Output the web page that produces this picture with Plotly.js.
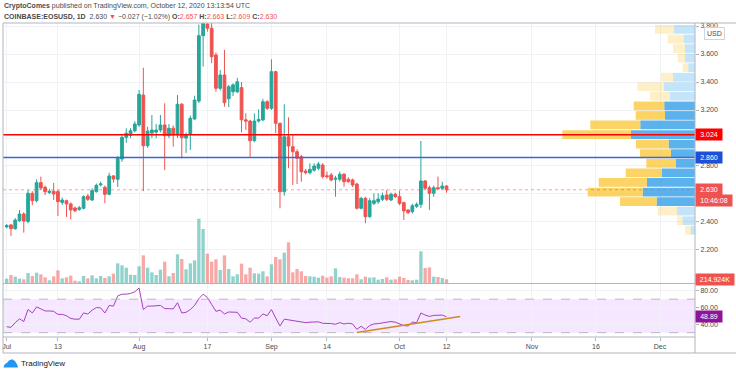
<!DOCTYPE html>
<html><head><meta charset="utf-8">
<script src="https://cdn.plot.ly/plotly-3.0.1.min.js"></script>
<style>html,body{margin:0;padding:0;background:#fff;}#chart{width:736px;height:374px;}</style>
</head><body><div id="chart"></div>
<script>
// ---------- data ----------
const firstDay = [2020, 6, 1]; // 1 Jul 2020, one candle per day
const openP = [2.365,2.379,2.352,2.409,2.457,2.404,2.605,2.552,2.681,2.648,
2.610,2.620,2.617,2.540,2.552,2.529,2.500,2.490,2.498,2.585,
2.557,2.617,2.665,2.648,2.598,2.729,2.705,2.850,3.005,3.020,
3.052,3.093,3.307,2.945,3.035,3.042,3.057,3.093,3.016,3.070,
3.022,3.241,3.000,3.026,3.136,3.264,3.731,3.814,3.784,3.593,
3.355,3.450,3.280,3.330,3.330,3.360,3.130,3.121,2.981,3.121,
3.129,3.259,3.212,3.474,3.105,2.616,3.009,2.938,2.902,2.866,
2.764,2.752,2.770,2.784,2.807,2.730,2.736,2.705,2.705,2.741,
2.705,2.700,2.671,2.498,2.569,2.438,2.533,2.545,2.562,2.593,
2.557,2.598,2.581,2.538,2.486,2.474,2.512,2.526,2.693,2.645,
2.605,2.645,2.641,2.657];
const highP = [2.385,2.385,2.428,2.486,2.470,2.629,2.620,2.705,2.724,2.660,
2.635,2.679,2.630,2.575,2.560,2.540,2.510,2.515,2.590,2.600,
2.640,2.675,2.688,2.660,2.752,2.735,2.870,3.020,3.069,3.070,
3.120,3.343,3.502,3.080,3.164,3.100,3.164,3.248,3.100,3.090,
3.307,3.250,3.040,3.160,3.302,3.810,3.940,3.900,3.830,3.610,
3.486,3.629,3.380,3.390,3.430,3.400,3.176,3.130,3.176,3.205,
3.280,3.270,3.562,3.480,3.110,3.241,3.148,3.021,2.920,2.880,
2.780,2.819,2.820,2.830,2.820,2.760,2.750,2.730,2.760,2.750,
2.720,2.710,2.680,2.580,2.580,2.570,2.605,2.605,2.610,2.629,
2.610,2.610,2.624,2.545,2.490,2.530,2.540,2.979,2.700,2.660,
2.660,2.724,2.688,2.663];
const lowP = [2.355,2.300,2.345,2.400,2.324,2.390,2.520,2.540,2.630,2.593,
2.600,2.557,2.443,2.520,2.436,2.419,2.470,2.480,2.490,2.550,
2.550,2.610,2.655,2.534,2.590,2.681,2.650,2.830,2.965,3.000,
3.040,3.080,2.621,2.930,3.000,2.998,3.040,2.771,3.000,2.938,
3.000,2.855,2.893,2.914,3.130,3.250,3.510,3.760,3.534,3.330,
3.340,3.224,3.220,3.300,3.320,3.040,3.057,2.866,2.970,3.110,
3.120,3.200,3.200,3.034,2.498,2.588,2.784,2.664,2.671,2.688,
2.740,2.740,2.760,2.770,2.710,2.710,2.690,2.581,2.690,2.652,
2.680,2.650,2.490,2.490,2.391,2.430,2.520,2.530,2.550,2.550,
2.550,2.570,2.520,2.414,2.455,2.460,2.500,2.500,2.630,2.486,
2.580,2.630,2.630,2.609];
const closeP = [2.375,2.352,2.414,2.457,2.407,2.605,2.552,2.681,2.643,2.616,
2.620,2.600,2.545,2.557,2.529,2.486,2.480,2.502,2.581,2.562,
2.624,2.662,2.672,2.598,2.729,2.707,2.855,3.005,3.034,3.052,
3.100,3.312,2.945,3.050,3.057,3.057,3.093,3.016,3.069,3.022,
3.241,3.002,3.020,3.141,3.271,3.731,3.819,3.784,3.581,3.355,
3.450,3.252,3.366,3.380,3.402,3.130,3.120,2.981,3.121,3.133,
3.259,3.212,3.474,3.105,2.616,3.009,2.943,2.902,2.855,2.759,
2.752,2.776,2.800,2.814,2.724,2.724,2.700,2.712,2.741,2.688,
2.688,2.664,2.498,2.569,2.438,2.552,2.552,2.564,2.588,2.562,
2.598,2.581,2.533,2.479,2.467,2.516,2.526,2.693,2.641,2.605,
2.645,2.638,2.657,2.630];
const volumeK = [251,464,367,251,213,580,406,599,503,329,
155,387,735,271,329,425,135,97,406,271,
445,271,406,290,387,541,1141,1025,889,483,
464,967,1604,889,619,464,773,1237,387,580,
1663,1392,793,1141,1315,3731,3132,1701,1237,1373,
754,1604,812,387,503,1121,503,889,561,541,
677,387,1083,1508,1373,1759,2359,619,812,677,
406,387,367,309,425,309,387,851,348,309,
271,271,503,213,367,309,329,193,232,329,
193,213,367,290,174,155,193,1837,870,909,
367,348,290,214.924];
const rsi = [37.1,36.3,42.0,46.5,43.3,57.6,53.5,60.8,58.4,55.9,
55.9,55.5,51.8,51.8,50.2,46.9,46.1,46.1,53.5,52.3,
56.8,60.0,59.6,53.5,62.5,61.7,73.9,76.0,76.0,76.8,
78.8,83.3,57.6,61.7,61.7,61.7,62.5,58.8,58.8,58.4,
65.7,53.5,54.3,57.6,62.5,70.6,76.0,71.9,63.7,55.5,
56.8,52.3,54.7,54.3,54.3,47.4,46.5,42.5,47.4,47.4,
52.3,50.2,57.6,47.4,38.0,46.1,45.3,44.9,44.1,42.5,
42.0,42.5,42.5,42.9,41.2,41.2,40.8,40.0,42.0,40.4,
41.2,40.4,33.9,37.6,33.9,38.6,40.4,40.8,41.6,42.0,
43.3,42.5,40.4,38.4,38.0,42.5,42.0,53.5,51.0,49.4,
50.6,50.6,51.0,48.89];
// visible-range volume profile (rows bottom -> top)
const profileLevels = [2.341,2.409,2.478,2.546,2.614,2.683,2.751,2.819,2.888,2.956,3.024,3.093,3.161,3.229,3.298,3.366,3.434,3.502,3.571,3.639,3.707,3.776];
const profileUp =   [4.3,12.3,18,38.3,52.3,48,33,19,24,26.3,64,54.7,30,30.7,25,31,22,6.7,10,10,11.3,21];
const profileDown = [5.7,5.7,19.3,36.7,55,48.3,36.3,29.7,31,32.7,68.7,50,29.3,30.6,20,26.6,12,5.6,7.3,12,16,19];
const profileInValueArea = [0,0,0,1,1,1,1,1,1,1,1,1,1,1,0,0,0,0,0,0,0,0];
const pocPrice = 3.024;
const drawnLinePrice = 2.860;
const countdown = '10:46:08';
const trendDates = ['2020-09-21 00:00', '2020-10-15 05:00'];
const trendRsi = [30.2, 49.4];
const tickDates = ['2020-07-01','2020-07-13','2020-08-01','2020-08-17','2020-09-01','2020-09-14','2020-10-01','2020-10-12','2020-11-01','2020-11-16','2020-12-01'];
const tickText = ['Jul','13','Aug','17','Sep','14','Oct','12','Nov','16','Dec'];
const priceTicks = [2.2,2.4,2.6,2.8,3.0,3.2,3.4,3.6,3.8];
const priceTickText = ['2.200','2.400','','2.800','','3.200','3.400','3.600','3.800'];
const rsiTicks = [40,60,80];
const rsiTickText = ['40.00','60.00','80.00'];

// ---------- build ----------
const dates = openP.map((_, i) => new Date(Date.UTC(firstDay[0], firstDay[1], firstDay[2] + i)).toISOString().slice(0, 10));
const UP = '#26a69a', DOWN = '#ef5350';
const volColors = openP.map((o, i) => closeP[i] >= o ? 'rgba(38,166,154,0.5)' : 'rgba(239,83,80,0.5)');
const n = closeP.length;
const last = closeP[n - 1], prev = closeP[n - 2];
const chg = last - prev, pct = chg / prev * 100;
const f3 = v => v.toFixed(3);
const minus = s => s.replace('-', '\u2212');

const traces = [
  {type: 'bar', x: dates, y: volumeK, xaxis: 'x', yaxis: 'y', marker: {color: volColors, line: {width: 0}}, hoverinfo: 'skip'},
  {type: 'candlestick', x: dates, open: openP, high: highP, low: lowP, close: closeP, xaxis: 'x', yaxis: 'y2',
   increasing: {line: {color: UP, width: 1}, fillcolor: UP},
   decreasing: {line: {color: DOWN, width: 1}, fillcolor: DOWN}, whiskerwidth: 0, hoverinfo: 'skip'},
  {type: 'bar', orientation: 'h', y: profileLevels, x: profileUp, base: 0, width: 0.0625, xaxis: 'x3', yaxis: 'y2',
   marker: {color: profileInValueArea.map(v => v ? 'rgba(21,146,230,0.7)' : 'rgba(21,146,230,0.25)'), line: {width: 0}}, hoverinfo: 'skip'},
  {type: 'bar', orientation: 'h', y: profileLevels, x: profileDown, base: profileUp, width: 0.0625, xaxis: 'x3', yaxis: 'y2',
   marker: {color: profileInValueArea.map(v => v ? 'rgba(251,193,35,0.7)' : 'rgba(251,193,35,0.25)'), line: {width: 0}}, hoverinfo: 'skip'},
  {type: 'scatter', mode: 'lines', x: dates, y: rsi, xaxis: 'x', yaxis: 'y3', line: {color: '#a93fc2', width: 1}, hoverinfo: 'skip'}
];

const GRID = '#f0f2f6', BORDER = '#b2b5be', TXT = '#4a4a4a';
const pxX = px => (px - 3) / 692;
const pxY = py => (337 - py) / 314;
function hline(y0, y1, x0, x1) { return {type: 'line', xref: 'paper', yref: 'paper', x0: x0, x1: x1, y0: y0, y1: y1, line: {color: BORDER, width: 1}}; }

const logoPts = [[3.5,367.5],[4.5,364.5],[7,362.8],[9,360.5],[12,359.3],[15,361],[16.5,363.5],[17.8,366],[17.8,367.5]];
const logoPath = 'M' + logoPts.map(p => pxX(p[0]).toFixed(5) + ',' + pxY(p[1]).toFixed(5)).join(' L') + ' Z';

const shapes = [
  {type: 'rect', xref: 'paper', yref: 'y3', x0: 0, x1: 1, y0: 30, y1: 70, fillcolor: 'rgba(153,21,255,0.1)', line: {width: 0}, layer: 'below'},
  {type: 'line', xref: 'paper', yref: 'y3', x0: 0, x1: 1, y0: 70, y1: 70, line: {color: '#b8b8c0', width: 1, dash: 'dash'}},
  {type: 'line', xref: 'paper', yref: 'y3', x0: 0, x1: 1, y0: 30, y1: 30, line: {color: '#b8b8c0', width: 1, dash: 'dash'}},
  {type: 'line', xref: 'paper', yref: 'y2', x0: 0, x1: 1, y0: last, y1: last, line: {color: 'rgba(239,83,80,0.55)', width: 1, dash: 'dot'}},
  {type: 'line', xref: 'paper', yref: 'y2', x0: 0, x1: 1, y0: drawnLinePrice, y1: drawnLinePrice, line: {color: '#3b66d4', width: 1.5}},
  {type: 'line', xref: 'paper', yref: 'y2', x0: 0, x1: 1, y0: pocPrice, y1: pocPrice, line: {color: '#ff0000', width: 1.5}},
  {type: 'line', xref: 'x', yref: 'y3', x0: trendDates[0], x1: trendDates[1], y0: trendRsi[0], y1: trendRsi[1], line: {color: '#cf8a25', width: 1.5}},
  // frame
  hline(1, 1, 0, 1.06),
  hline(pxY(283.5), pxY(283.5), 0, 1),
  hline(0, 0, 0, 1),
  hline(pxY(353), pxY(353), 0, 1.06),
  {type: 'line', xref: 'paper', yref: 'paper', x0: 0, x1: 0, y0: pxY(353), y1: 1, line: {color: BORDER, width: 1}},
  {type: 'line', xref: 'paper', yref: 'paper', x0: 1, x1: 1, y0: pxY(353), y1: 1, line: {color: BORDER, width: 1}},
  {type: 'path', xref: 'paper', yref: 'paper', path: logoPath, fillcolor: '#2196f3', line: {width: 0}}
];

function tag(yref, y, text, bg, yshift, w) {
  return {xref: 'paper', x: 1, xanchor: 'left', yref: yref, y: y, yanchor: 'middle', yshift: yshift || 0,
    text: text, showarrow: false, bgcolor: bg, font: {color: '#ffffff', size: 7}, borderpad: 1, width: w || 24, height: 9, align: 'center'};
}
const red = s => '<span style="color:#ef5350">' + s + '</span>';
const header1 = '<b>CryptoComes</b> published on TradingView.com, October 12, 2020 13:13:54 UTC';
const header2 = '<b>COINBASE:EOSUSD, 1D</b>  ' + f3(last) + ' ' + red('\u25BC') + ' ' + minus(f3(chg)) + ' (' + minus(pct.toFixed(2)) + '%) ' +
  '<b>O:</b>' + red(f3(openP[n-1])) + ' <b>H:</b>' + red(f3(highP[n-1])) + ' <b>L:</b>' + red(f3(lowP[n-1])) + ' <b>C:</b>' + red(f3(closeP[n-1]));

const annotations = [
  {xref: 'paper', yref: 'paper', x: pxX(2), y: pxY(5.5), xanchor: 'left', yanchor: 'middle', text: header1, showarrow: false, font: {size: 7, color: '#4a4a4a'}},
  {xref: 'paper', yref: 'paper', x: pxX(2), y: pxY(17), xanchor: 'left', yanchor: 'middle', text: header2, showarrow: false, font: {size: 7, color: '#4a4a4a'}},
  tag('y2', pocPrice, f3(pocPrice), '#ff0000'),
  tag('y2', drawnLinePrice, f3(drawnLinePrice), '#1e50d6'),
  tag('y2', last, f3(last), '#ef5350'),
  tag('y2', last, countdown, '#ef5350', -11, 34),
  tag('y', volumeK[n-1], volumeK[n-1].toFixed(3) + 'K', '#ef5350', 0, 36),
  tag('y3', rsi[n-1], rsi[n-1].toFixed(2), '#8e1599'),
  {xref: 'paper', yref: 'paper', x: pxX(714), y: pxY(33), xanchor: 'center', yanchor: 'middle', text: 'USD', showarrow: false,
   font: {size: 7, color: '#4a4a4a'}, bgcolor: '#ffffff', bordercolor: '#d1d4dc', borderwidth: 1, borderpad: 2},
  {xref: 'paper', yref: 'paper', x: pxX(19), y: pxY(363.5), xanchor: 'left', yanchor: 'middle', text: 'TradingView', showarrow: false,
   font: {size: 8, color: '#131722'}}
];

const layout = {
  width: 736, height: 374,
  margin: {l: 3, r: 41, t: 23, b: 37, pad: 0},
  paper_bgcolor: '#ffffff', plot_bgcolor: '#ffffff',
  showlegend: false, hovermode: false, dragmode: false,
  font: {family: '"Liberation Sans", Arial, sans-serif', size: 7, color: TXT},
  bargap: 0.22, barmode: 'overlay',
  boxgap: 0.2, boxgroupgap: 0.2,
  xaxis: {type: 'date', range: ['2020-06-30 03:12', '2020-12-09 04:34'], anchor: 'y3',
    tickmode: 'array', tickvals: tickDates, ticktext: tickText, ticks: 'outside', ticklen: 3, tickcolor: BORDER,
    showgrid: true, gridcolor: GRID, showline: false, zeroline: false, rangeslider: {visible: false},
    tickfont: {size: 7, color: TXT}, fixedrange: true},
  xaxis3: {overlaying: 'x', range: [692, 0], visible: false, anchor: 'y2', fixedrange: true},
  yaxis: {domain: [0.172, 1], range: [0, 15080], visible: false, fixedrange: true},
  yaxis2: {overlaying: 'y', anchor: 'x', side: 'right', range: [1.9643, 3.8214], tickmode: 'array', tickvals: priceTicks, ticktext: priceTickText,
    ticks: 'outside', ticklen: 3, tickcolor: BORDER, showgrid: true, gridcolor: GRID, zeroline: false, showline: false,
    tickfont: {size: 7, color: TXT}, fixedrange: true},
  yaxis3: {domain: [0, 0.169], anchor: 'x', side: 'right', range: [24.8, 88.2], tickmode: 'array', tickvals: rsiTicks, ticktext: rsiTickText,
    ticks: 'outside', ticklen: 3, tickcolor: BORDER, showgrid: true, gridcolor: GRID, zeroline: false, showline: false,
    tickfont: {size: 7, color: TXT}, fixedrange: true},
  shapes: shapes,
  annotations: annotations
};

Plotly.newPlot('chart', traces, layout, {staticPlot: true, displayModeBar: false});
</script>
</body></html>
